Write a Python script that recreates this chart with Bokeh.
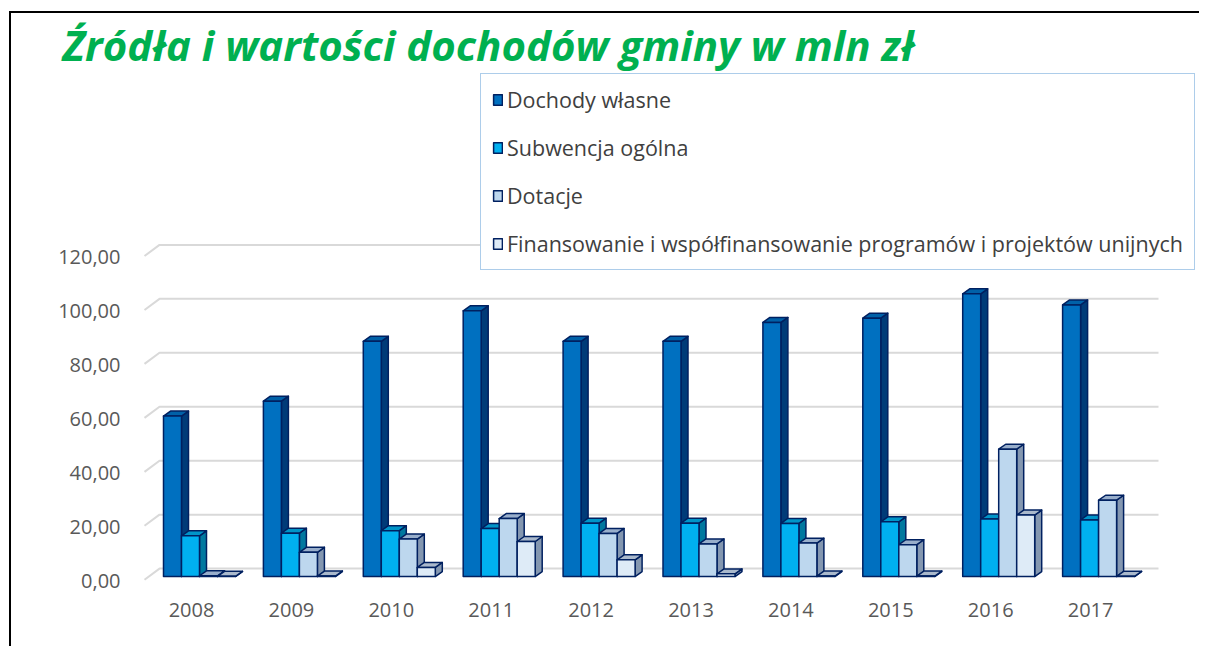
from bokeh.plotting import figure
from bokeh.models import (Range1d, FixedTicker, Legend, LegendItem, ColumnDataSource)
from bokeh.embed import file_html
from bokeh.resources import INLINE

# ---------------- data ----------------
years = ["2008", "2009", "2010", "2011", "2012", "2013", "2014", "2015", "2016", "2017"]
series_names = ["Dochody własne", "Subwencja ogólna", "Dotacje",
                "Finansowanie i współfinansowanie programów i projektów unijnych"]
dochody_wlasne = [59.5, 65.0, 87.2, 98.5, 87.2, 87.2, 94.2, 95.8, 104.8, 100.7]
subwencja_ogolna = [15.1, 16.1, 17.0, 17.8, 19.8, 19.8, 19.7, 20.3, 21.3, 21.0]
dotacje = [0.3, 9.0, 13.9, 21.5, 16.0, 12.1, 12.4, 11.8, 47.2, 28.3]
finansowanie_ue = [0.1, 0.2, 3.4, 13.0, 6.2, 1.0, 0.2, 0.2, 22.8, 0.1]
y_ticks = [0, 20, 40, 60, 80, 100, 120]
y_tick_labels = ["0,00", "20,00", "40,00", "60,00", "80,00", "100,00", "120,00"]
title_text = "Źródła i wartości dochodów gminy w mln zł"

all_series = [dochody_wlasne, subwencja_ogolna, dotacje, finansowanie_ue]

# ---------------- styling / geometry ----------------
FONT = "Open Sans"
front_colors = ["#0070C0", "#00B0F0", "#BDD7EE", "#DEEBF7"]
side_colors = ["#003B78", "#00789F", "#8497B0", "#8497B0"]
top_colors = ["#0061A8", "#0094C8", "#98AECB", "#AAB9CC"]
EDGE = "#002060"

W, H = 1190, 635
OX, OY = 11, 13            # page position of canvas origin
FL, FR, FT, FB = 130, 1199, 70, 592   # frame edges (page px)
PXX = 99.9                 # px per category
X0 = 191                   # page x of first category
PXY = 2.708                # px per value unit
Y0 = 580                   # page y of value 0 on axis plane


def ddx(px):
    return px / PXX


def ddy(px):
    return px / PXY


x_range = Range1d((FL - X0) / PXX, (FR - X0) / PXX)
y_range = Range1d((Y0 - FB) / PXY, (Y0 - FT) / PXY)

p = figure(width=W, height=H, x_range=x_range, y_range=y_range,
           output_backend="svg", toolbar_location=None,
           min_border_left=FL - OX, min_border_right=(OX + W) - FR,
           min_border_top=FT - OY, min_border_bottom=(OY + H) - FB)
p.styles = {"margin-left": "9px", "margin-top": "11px",
            "border-left": "2px solid black", "border-top": "2px solid black"}
p.outline_line_color = None
p.background_fill_color = "white"
p.border_fill_color = "white"
p.xgrid.visible = False
p.ygrid.visible = False

# title
p.title.text = title_text
p.title.text_font = FONT
p.title.text_font_style = "bold italic"
p.title.text_font_size = "42px"
p.title.text_color = "#00B050"
p.title.align = "left"
p.title.offset = 62 - FL
p.title.standoff = 0
p.title.text_line_height = 0.75

# back wall gridlines with left-side stubs
BACK_Y = ddy(Y0 - 568)
gx0, gx1, gx2 = ddx(144 - X0), ddx(159 - X0), ddx(1158 - X0)
gxs = [[gx0, gx1, gx2] for t in y_ticks]
gys = [[t + 0.3, t + BACK_Y, t + BACK_Y] for t in y_ticks]
p.multi_line(gxs, gys, line_color="#D9D9D9", line_width=2)

# bars
BASE = ddy(Y0 - 576)
BW = ddx(18)
DX, DY = ddx(7), ddy(5)
front_renderers = []
for k, vals in enumerate(all_series):
    xl = [i + ddx(-28 + 18 * k) for i in range(len(years))]
    xr = [a + BW for a in xl]
    yb = [BASE for _ in vals]
    yt = [BASE + v for v in vals]
    side_x = [[r, r + DX, r + DX, r] for r in xr]
    side_y = [[b, b + DY, t + DY, t] for b, t in zip(yb, yt)]
    top_x = [[l, r, r + DX, l + DX] for l, r in zip(xl, xr)]
    top_y = [[t, t, t + DY, t + DY] for t in yt]
    p.patches(side_x, side_y, fill_color=side_colors[k], line_color=EDGE,
              line_width=1.5, line_join="round")
    p.patches(top_x, top_y, fill_color=top_colors[k], line_color=EDGE,
              line_width=1.5, line_join="round")
    src = ColumnDataSource(dict(left=xl, right=xr, bottom=yb, top=yt))
    fr = p.quad(left="left", right="right", bottom="bottom", top="top", source=src,
                fill_color=front_colors[k], line_color=EDGE, line_width=1.5,
                line_join="round")
    front_renderers.append(fr)

# axes
p.yaxis.ticker = FixedTicker(ticks=y_ticks)
p.yaxis.major_label_overrides = {t: s for t, s in zip(y_ticks, y_tick_labels)}
p.xaxis.ticker = FixedTicker(ticks=list(range(len(years))))
p.xaxis.major_label_overrides = {i: y for i, y in enumerate(years)}
for ax in (p.xaxis[0], p.yaxis[0]):
    ax.axis_line_color = None
    ax.major_tick_line_color = None
    ax.minor_tick_line_color = None
    ax.major_tick_out = 0
    ax.major_tick_in = 0
    ax.minor_tick_out = 0
    ax.major_label_text_font = FONT
    ax.major_label_text_font_size = "20px"
    ax.major_label_text_color = "#595959"
p.yaxis.major_label_standoff = 10
p.xaxis.major_label_standoff = 10

# legend
legend = Legend(items=[LegendItem(label=n, renderers=[r])
                       for n, r in zip(series_names, front_renderers)])
legend.location = (480 - FL, FB - 270)
legend.margin = 0
legend.padding = 11
legend.spacing = 19
legend.glyph_width = 11
legend.glyph_height = 13
legend.label_standoff = 4
legend.label_height = 20
legend.label_text_font = FONT
legend.label_text_font_size = "21.5px"
legend.label_text_color = "#404040"
legend.border_line_color = "#5B9BD5"
legend.border_line_width = 1.5
legend.background_fill_color = "white"
legend.background_fill_alpha = 1.0
p.add_layout(legend)

open("out.html", "w").write(file_html(p, INLINE))
